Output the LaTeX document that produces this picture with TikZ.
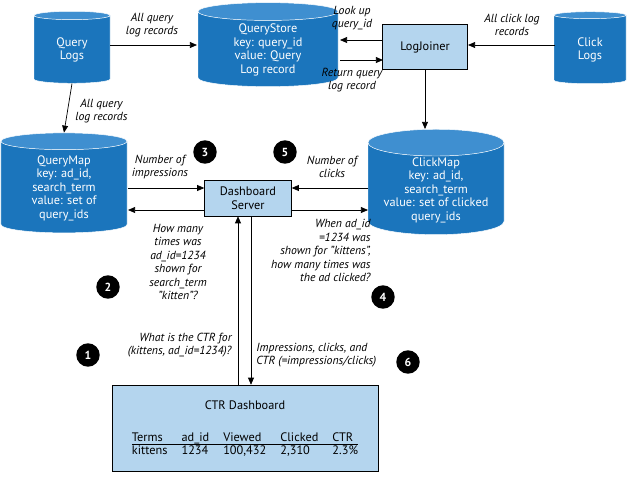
\documentclass[tikz,border=0pt]{standalone}
\usepackage{fontspec}
\setmainfont{PT Sans}
\usetikzlibrary{shapes.geometric,arrows.meta,positioning}
\definecolor{dbblue}{HTML}{1B75BC}
\definecolor{dbtop}{HTML}{3F8FD0}
\definecolor{boxblue}{HTML}{B4D5EE}
\tikzset{
  store/.style={cylinder, shape border rotate=90, aspect=0.25, draw=white,
    cylinder uses custom fill, cylinder body fill=dbblue, cylinder end fill=dbtop,
    text=white, align=center, font=\fontsize{10.5}{11.5}\selectfont, inner sep=1pt},
  proc/.style={draw, fill=boxblue, align=center, font=\fontsize{10.5}{11.5}\selectfont},
  lbl/.style={font=\fontsize{10}{11.5}\itshape, align=center, inner sep=1pt},
  stepno/.style={circle, fill=black, text=white, font=\bfseries\fontsize{10}{10}\selectfont, inner sep=1pt, minimum size=20pt},
  arr/.style={-{Triangle[length=6pt,width=5pt]}, line width=0.6pt}
}
\begin{document}
\begin{tikzpicture}[x=0.03cm,y=-0.03cm]
  \useasboundingbox (0,0) rectangle (630,492);

  % data stores
  \node[store, minimum width=76*0.03cm, minimum height=72*0.03cm] (qlogs) at (72,50) {Query\\Logs};
  \node[store, minimum width=140*0.03cm, minimum height=84*0.03cm] (qstore) at (268,50)
    {QueryStore\\key: query\_id\\value: Query\\Log record};
  \node[store, minimum width=72*0.03cm, minimum height=72*0.03cm] (clogs) at (590,50) {Click\\Logs};
  \node[store, minimum width=126*0.03cm, minimum height=100*0.03cm] (qmap) at (64,188)
    {QueryMap\\key: ad\_id,\\search\_term\\value: set of\\query\_ids};
  \node[store, minimum width=136*0.03cm, minimum height=102*0.03cm] (cmap) at (436,190)
    {ClickMap\\key: ad\_id,\\search\_term\\value: set of clicked\\query\_ids};

  % processes
  \node[proc, minimum width=85*0.03cm, minimum height=45*0.03cm] (joiner) at (425,47) {LogJoiner};
  \node[proc, minimum width=87*0.03cm, minimum height=36*0.03cm] (server) at (248,198) {Dashboard\\Server};
  \node[proc, minimum width=266*0.03cm, minimum height=86*0.03cm] (dash) at (245,428) {};
  \node[font=\fontsize{10.5}{11.5}\selectfont] (dtitle) at (245,405) {CTR Dashboard};
  \node[font=\fontsize{10.5}{12}\selectfont, anchor=north] (dtable) at (245,428) {%
    \begin{tabular}{@{}l@{\hspace{12pt}}l@{\hspace{12pt}}l@{\hspace{12pt}}l@{\hspace{12pt}}l@{}}
    Terms & ad\_id & Viewed & Clicked & CTR\\[-2pt]\hline
    kittens & 1234 & 100,432 & 2,310 & 2.3\%
    \end{tabular}};

  % top row
  \coordinate (qlogsE) at (110,45);
  \coordinate (qstoreW) at (197,45);
  \draw[arr] (qlogsE) -- (qstoreW);
  \node[lbl] (l1) at (152,25) {All query\\log records};
  \coordinate (jW1) at (383,40);
  \coordinate (qsE1) at (340,40);
  \draw[arr] (jW1) -- (qsE1);
  \node[lbl] (l2) at (352,18) {Look up\\query\_id};
  \coordinate (qsE2) at (340,60);
  \coordinate (jW2) at (383,60);
  \draw[arr] (qsE2) -- (jW2);
  \node[lbl] (l3) at (352,80) {Return query\\log record};
  \coordinate (clogsW) at (555,45);
  \coordinate (jE) at (468,45);
  \draw[arr] (clogsW) -- (jE);
  \node[lbl] (l4) at (512,25) {All click log\\records};

  % down to maps
  \draw[arr] (qlogs.south) -- (qmap.north);
  \node[lbl, anchor=west] (l5) at (74,111) {All query\\log records};
  \draw[arr] (joiner.south) -- (joiner.south |- cmap.north);

  % server <-> maps
  \coordinate (qmE1) at (128,188);
  \coordinate (qmE2) at (128,210);
  \coordinate (cmW1) at (368,188);
  \coordinate (cmW2) at (368,210);
  \draw[arr] (qmE1) -- (server.west |- qmE1);
  \draw[arr] (server.west |- qmE2) -- (qmE2);
  \draw[arr] (cmW1) -- (server.east |- cmW1);
  \draw[arr] (server.east |- cmW2) -- (cmW2);
  \node[lbl] (l6) at (160,167) {Number of\\impressions};
  \node[lbl] (l7) at (332,167) {Number of\\clicks};
  \node[lbl] (l8) at (178,262) {How many\\times was\\ad\_id=1234\\shown for\\search\_term\\"kitten"?};
  \node[lbl, anchor=north east, align=right] (l9) at (372,218)
    {When ad\_id\\=1234 was\\shown for "kittens",\\how many times was\\the ad clicked?};

  % server <-> dashboard
  \coordinate (d1) at (238,385);
  \coordinate (d2) at (251,216);
  \draw[arr] (d1) -- (d1 |- server.south);
  \draw[arr] (d2) -- (d2 |- dash.north);
  \node[lbl, anchor=east, align=right] (l10) at (233,345) {What is the CTR for\\(kittens, ad\_id=1234)?};
  \node[lbl, anchor=west, align=left] (l11) at (255,355) {Impressions, clicks, and\\CTR (=impressions/clicks)};

  % steps
  \node[stepno] (s1) at (88,355) {1};
  \node[stepno] (s2) at (108,287) {2};
  \node[stepno] (s3) at (205,152) {3};
  \node[stepno] (s4) at (383,297) {4};
  \node[stepno] (s5) at (285,152) {5};
  \node[stepno] (s6) at (408,362) {6};
\end{tikzpicture}
\end{document}
